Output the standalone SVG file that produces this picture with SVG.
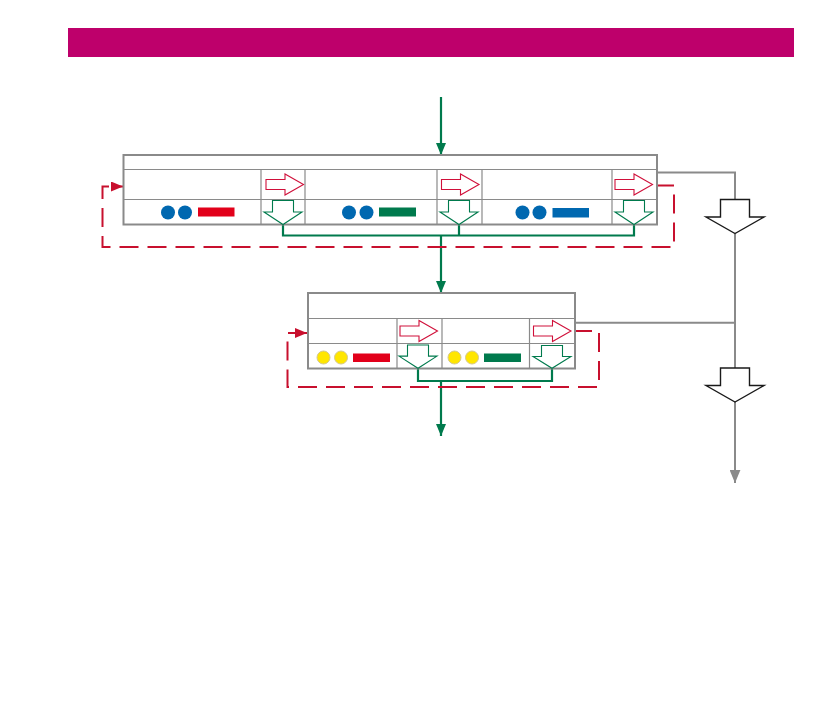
<svg xmlns="http://www.w3.org/2000/svg" width="839" height="709" viewBox="0 0 839 709">
<style>
.box{fill:#fff;stroke:#8a8a8a;stroke-width:2}
.grid{fill:none;stroke:#8a8a8a;stroke-width:1.2}
.rarr{fill:#fff;stroke:#d0103a;stroke-width:1.1}
.garr{fill:#fff;stroke:#007a4d;stroke-width:1.1}
.karr{fill:#fff;stroke:#1a1a1a;stroke-width:1.4}
.gline{fill:none;stroke:#007a4d;stroke-width:2.2}
.rdash{fill:none;stroke:#c8102e;stroke-width:2;stroke-dasharray:19 9}
.gray{fill:none;stroke:#8a8a8a;stroke-width:2}
.blue{fill:#0068b0}
.yel{fill:#ffe600;stroke:#d6c98a;stroke-width:1}
</style>
<defs>
<marker id="mg" viewBox="0 0 12 10" markerWidth="12" markerHeight="10" refX="12" refY="5" orient="auto" markerUnits="userSpaceOnUse"><path d="M0,0 L12,5 L0,10 Z" fill="#007a4d"/></marker>
<marker id="mr" viewBox="0 0 12 10" markerWidth="12" markerHeight="10" refX="12" refY="5" orient="auto" markerUnits="userSpaceOnUse"><path d="M0,0 L12,5 L0,10 Z" fill="#c8102e"/></marker>
<marker id="mk" viewBox="0 0 12 10" markerWidth="13" markerHeight="11" refX="12" refY="5" orient="auto" markerUnits="userSpaceOnUse"><path d="M0,0 L12,5 L0,10 Z" fill="#8a8a8a"/></marker>
<path id="ra" d="M0,-5 H19 V-10.5 L37.5,0 L19,10.5 V5 H0 Z"/>
<path id="ga" d="M-10.5,0 H10.5 V11.5 H19 L0,24 L-19,11.5 H-10.5 Z"/>
<path id="ka" d="M-14.5,0 H14.5 V17.5 H29 L0,34 L-29,17.5 H-14.5 Z"/>
</defs>
<rect id="banner" x="68" y="28" width="726" height="29" fill="#be006b"/>
<g id="connectors">
<line class="gline" x1="441" y1="97" x2="441" y2="155" marker-end="url(#mg)"/>
<path class="gline" d="M283,224 V235.5 H634 V224 M459,224 V235.5"/>
<line class="gline" x1="441" y1="235.5" x2="441" y2="293" marker-end="url(#mg)"/>
<path class="gline" d="M418,368 V381 H552 V368"/>
<line class="gline" x1="441" y1="381" x2="441" y2="436" marker-end="url(#mg)"/>
<path class="rdash" d="M655,185.5 H674 V247 H102.5 V186.5 H123" marker-end="url(#mr)"/>
<path class="rdash" d="M573,331 H599 V387 H287.5 V333 H307" marker-end="url(#mr)"/>
<path class="gray" d="M657,172.5 H735 V199.5"/>
<path class="gray" d="M735,233.5 V368"/>
<path class="gray" d="M575,322.7 H735"/>
<line class="gray" x1="735" y1="402" x2="735" y2="483" marker-end="url(#mk)"/>
</g>
<g id="stage1">
<rect class="box" x="123.5" y="155" width="533.5" height="69.5"/>
<path class="grid" d="M123.5,169.5 H657 M123.5,199.5 H657 M261,169.5 V224.5 M305,169.5 V224.5 M437,169.5 V224.5 M482,169.5 V224.5 M612,169.5 V224.5"/>
<use href="#ra" class="rarr" transform="translate(266,184.5)"/>
<use href="#ra" class="rarr" transform="translate(441.5,184.5)"/>
<use href="#ra" class="rarr" transform="translate(615,184.5)"/>
<use href="#ga" class="garr" transform="translate(283,200.5)"/>
<use href="#ga" class="garr" transform="translate(459,200.5)"/>
<use href="#ga" class="garr" transform="translate(634,200.5)"/>
<circle class="blue" cx="168" cy="212.5" r="7"/>
<circle class="blue" cx="185" cy="212.5" r="7"/>
<rect x="198" y="207.5" width="36.5" height="9" fill="#e2001a"/>
<circle class="blue" cx="349" cy="212.5" r="7"/>
<circle class="blue" cx="366.5" cy="212.5" r="7"/>
<rect x="379" y="207.5" width="37" height="9" fill="#007a4d"/>
<circle class="blue" cx="522.5" cy="212.5" r="7"/>
<circle class="blue" cx="539.5" cy="212.5" r="7"/>
<rect x="552.5" y="208" width="36.5" height="9.5" fill="#0068b0"/>
</g>
<g id="stage2">
<rect class="box" x="308" y="293" width="267" height="75.5"/>
<path class="grid" d="M308,318.5 H575 M308,343.5 H575 M397,318.5 V368.5 M442,318.5 V368.5 M529.5,318.5 V368.5"/>
<use href="#ra" class="rarr" transform="translate(400,331)"/>
<use href="#ra" class="rarr" transform="translate(533.5,331)"/>
<use href="#ga" class="garr" transform="translate(418,345) scale(1,0.97)"/>
<use href="#ga" class="garr" transform="translate(552,345.5) scale(1,0.95)"/>
<circle class="yel" cx="323.5" cy="357.5" r="6.5"/>
<circle class="yel" cx="341" cy="357.5" r="6.5"/>
<rect x="353" y="353.5" width="37" height="8.5" fill="#e2001a"/>
<circle class="yel" cx="454.5" cy="357.5" r="6.5"/>
<circle class="yel" cx="472" cy="357.5" r="6.5"/>
<rect x="484" y="353.5" width="37" height="8.5" fill="#007a4d"/>
</g>
<g id="output1"><use href="#ka" class="karr" transform="translate(735,199.5)"/></g>
<g id="output2"><use href="#ka" class="karr" transform="translate(735,368)"/></g>
</svg>
